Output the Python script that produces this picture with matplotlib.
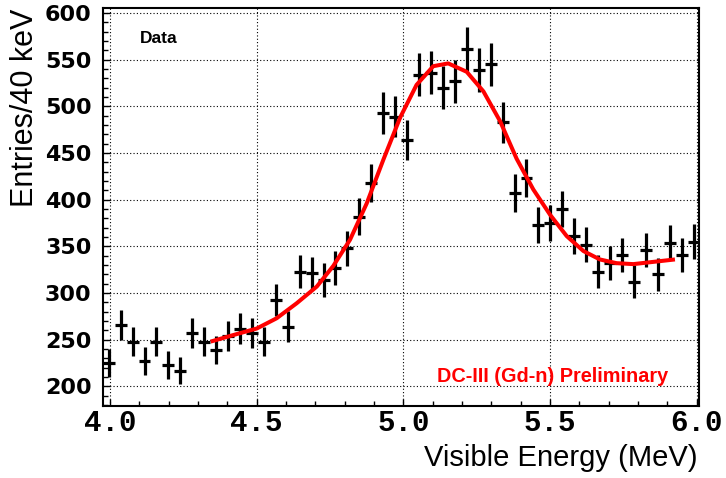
import numpy as np
import matplotlib
matplotlib.use("Agg")
import matplotlib.pyplot as plt
from matplotlib.ticker import MultipleLocator, FormatStrFormatter

plt.rcParams['font.weight'] = 'bold'
plt.rcParams['xtick.labelsize'] = 21
plt.rcParams['ytick.labelsize'] = 16

# histogram range and binning (40 keV bins)
e_min, e_max = 3.975, 6.01
n_bins = 50

# entries per bin
counts = [225, 266, 248, 227, 248, 223, 217, 257, 248, 239,
          254, 262, 257, 248, 293, 264, 323, 321, 314, 327,
          348, 382, 418, 493, 489, 464, 534, 536, 520, 527,
          561, 539, 545, 483, 407, 423, 373, 375, 390, 361,
          352, 323, 332, 341, 312, 346, 320, 354, 341, 355]

# fit curve
fit_x = [4.343, 4.42, 4.50, 4.568, 4.636, 4.705, 4.761, 4.818, 4.875,
         4.932, 4.989, 5.045, 5.102, 5.153, 5.216, 5.273, 5.33, 5.386,
         5.443, 5.50, 5.557, 5.614, 5.67, 5.727, 5.784, 5.841, 5.926]
fit_y = [248, 255, 262, 273, 289, 307, 329, 357, 396,
         443, 488, 523, 543, 546, 537, 516, 484, 444,
         411, 384, 361, 345, 336, 332, 331, 333, 336]

edges = np.linspace(e_min, e_max, n_bins + 1)
centers = 0.5 * (edges[1:] + edges[:-1])
half_w = 0.5 * (edges[1] - edges[0])
counts = np.array(counts, dtype=float)

fig = plt.figure(figsize=(7.26, 4.78), dpi=100)
ax = fig.add_axes([0.1415, 0.1506, 0.8217, 0.832])

ax.errorbar(centers, counts, yerr=np.sqrt(counts), xerr=half_w, fmt='none',
            ecolor='black', elinewidth=2.3, capsize=0, zorder=3)
ax.plot(fit_x, fit_y, color='#ff0000', lw=2.9, solid_capstyle='butt', zorder=4)

ax.set_xlim(e_min, 6.009)
ax.set_ylim(179, 605)

ax.xaxis.set_major_locator(MultipleLocator(0.5))
ax.xaxis.set_minor_locator(MultipleLocator(0.1))
ax.xaxis.set_major_formatter(FormatStrFormatter('%.1f'))
ax.yaxis.set_major_locator(MultipleLocator(50))
ax.yaxis.set_minor_locator(MultipleLocator(10))

ax.tick_params(which='both', direction='in', top=False, right=False, width=1)
ax.tick_params(which='major', length=5)
ax.tick_params(which='minor', length=3.5)
ax.tick_params(axis='x', pad=2, labelfontfamily='Liberation Mono')
ax.tick_params(axis='y', pad=8, labelfontfamily='DejaVu Sans')

ax.grid(True, which='major', color='black', linestyle=(0, (1, 2)), linewidth=0.8)
ax.set_axisbelow(True)
for s in ax.spines.values():
    s.set_linewidth(1.5)

ax.set_xlabel('Visible Energy (MeV)', loc='right', fontsize=21,
              fontfamily='Liberation Sans', fontweight='normal')
ax.xaxis.set_label_coords(0.997, -0.095)
ax.set_ylabel('Entries/40 keV', loc='top', fontsize=22,
              fontfamily='Liberation Sans', fontweight='normal')
ax.yaxis.set_label_coords(-0.105, 1.0)

fig.text(140 / 726, 1 - 43.3 / 478, 'Data', fontsize=12.5, fontweight='bold',
         fontfamily='Liberation Sans', ha='left', va='baseline')
fig.text(436.7 / 726, 1 - 381.7 / 478, 'DC-III (Gd-n) Preliminary',
         fontsize=14.3, fontweight='bold', fontfamily='Liberation Sans',
         color='#ff0000', ha='left', va='baseline')

fig.savefig('out.png', dpi=100)
